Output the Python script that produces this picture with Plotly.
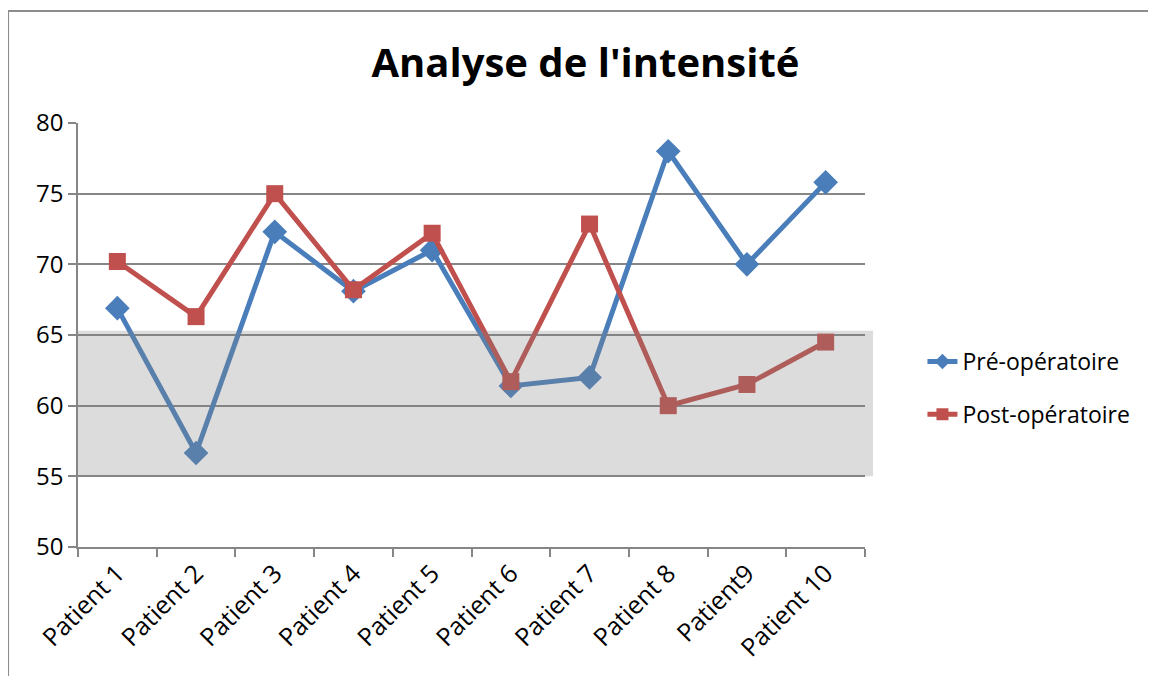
import plotly.graph_objects as go

categories = ["Patient 1", "Patient 2", "Patient 3", "Patient 4", "Patient 5",
              "Patient 6", "Patient 7", "Patient 8", "Patient9", "Patient 10"]
pre_op = [66.9, 56.65, 72.3, 68.1, 71.0, 61.4, 62.0, 78.0, 70.0, 75.8]
post_op = [70.2, 66.3, 75.0, 68.2, 72.2, 61.7, 72.85, 60.0, 61.5, 64.5]
band_low, band_high = 55, 65.3
y_ticks = [50, 55, 60, 65, 70, 75, 80]

FONT = "Open Sans"
GRID = "#868686"

fig = go.Figure()
fig.add_trace(go.Scatter(
    x=categories, y=pre_op, name="Pré-opératoire", mode="lines+markers",
    legendgroup="pre",
    line=dict(color="#4a7ebb", width=5),
    marker=dict(symbol="diamond", size=19, color="#4a7ebb"),
))
fig.add_trace(go.Scatter(
    x=categories, y=post_op, name="Post-opératoire", mode="lines+markers",
    legendgroup="post",
    line=dict(color="#c0504d", width=5),
    marker=dict(symbol="square", size=17, color="#c0504d"),
))

# translucent grey band drawn over the plot
fig.add_shape(type="rect", xref="paper", yref="y", x0=0, x1=1.0102,
              y0=band_low, y1=band_high, fillcolor="rgba(128,128,128,0.28)",
              line=dict(width=0), layer="above")
# chart frame (top and left edges)
fig.add_shape(type="line", xref="paper", yref="paper", x0=-0.0889, x1=1.5,
              y0=1.2642, y1=1.2642, line=dict(color="#8c8c8c", width=2))
fig.add_shape(type="line", xref="paper", yref="paper", x0=-0.0889, x1=-0.0889,
              y0=1.2642, y1=-0.4, line=dict(color="#8c8c8c", width=2))

fig.update_layout(
    width=1148, height=668,
    margin=dict(l=70, r=291, t=115, b=129),
    paper_bgcolor="white", plot_bgcolor="white",
    font=dict(family=FONT, color="black", size=23),
    title=dict(text="<b>Analyse de l'intensité</b>", x=0.503, xanchor="center",
               y=0.917, yanchor="middle", font=dict(family=FONT, size=40, color="black")),
    showlegend=True,
    legend=dict(x=1.073, y=0.375, xanchor="left", yanchor="middle",
                font=dict(family=FONT, size=23), tracegroupgap=20,
                itemsizing="constant", bgcolor="rgba(0,0,0,0)"),
    xaxis=dict(
        type="category", categoryorder="array", categoryarray=categories,
        range=[-0.5, 9.5], showgrid=False, showline=True, linecolor=GRID, linewidth=1.5,
        ticks="outside", tickson="boundaries", ticklen=8, tickcolor=GRID, tickwidth=1.5,
        tickangle=-45, tickfont=dict(family=FONT, size=25), zeroline=False,
    ),
    yaxis=dict(
        range=[50, 80], tickvals=y_ticks, showgrid=True, gridcolor=GRID, gridwidth=1.5,
        showline=True, linecolor=GRID, linewidth=1.5, ticks="outside", ticklen=8,
        tickcolor=GRID, tickwidth=1.5, tickfont=dict(family=FONT, size=24), zeroline=False,
    ),
)

fig.write_html("out.html")
